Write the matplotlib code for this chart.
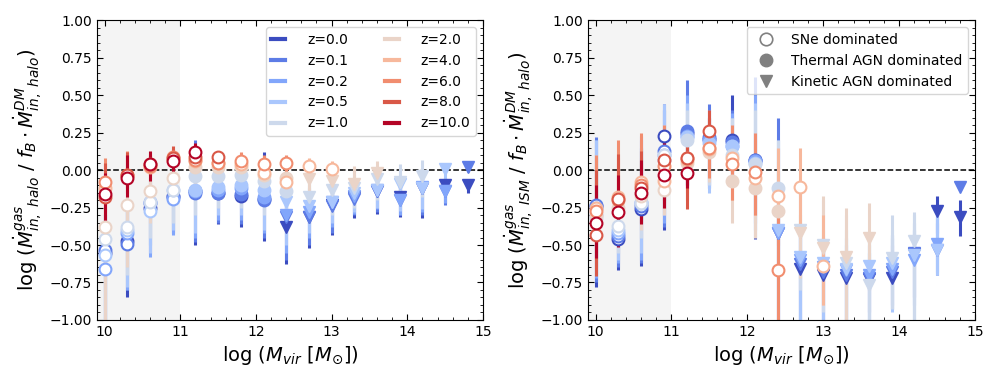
import numpy as np
import matplotlib.pyplot as plt
from matplotlib.lines import Line2D
from matplotlib.ticker import AutoMinorLocator

n = np.nan

# bin centres, log Mvir
logM = [10.0, 10.3, 10.6, 10.9, 11.2, 11.5, 11.8, 12.1, 12.4, 12.7, 13.0, 13.3, 13.6, 13.9, 14.2, 14.5, 14.8]
redshifts = ['0.0', '0.1', '0.2', '0.5', '1.0', '2.0', '4.0', '6.0', '8.0', '10.0']

# o = SNe (open), f = thermal AGN (filled), v = kinetic AGN
halo_mark = ["ooooffffvvvvvvvvv"] * 4 + ["oooofffffvvvvvvvv"] * 2 + ["o" * 17] * 4
ism_mark = ["ooooffffvvvvvvvvv"] * 4 + ["oooofffffvvvvvvvv"] * 2 + ["o" * 17] * 4

# ---- left panel: halo ----
halo_y = [
    [-0.55, -0.47, -0.25, -0.17, -0.14, -0.15, -0.17, -0.19, -0.38, -0.31, -0.23, -0.18, -0.14, -0.18, -0.12, -0.10, -0.10],
    [-0.53, -0.49, -0.22, -0.18, -0.15, -0.15, -0.16, -0.20, -0.31, -0.31, -0.24, -0.19, -0.14, -0.20, -0.12, -0.14, 0.02],
    [-0.66, -0.42, -0.21, -0.19, -0.14, -0.13, -0.12, -0.18, -0.30, -0.28, -0.21, -0.17, -0.13, -0.20, -0.11, -0.14],
    [-0.57, -0.40, -0.27, -0.13, -0.13, -0.11, -0.10, -0.13, -0.21, -0.24, -0.21, -0.15, -0.13, -0.09, -0.12, 0.01],
    [-0.46, -0.38, -0.21, -0.13, -0.04, -0.04, -0.03, -0.07, -0.14, -0.18, -0.13, -0.12, -0.06, -0.08, -0.04],
    [-0.38, -0.23, -0.14, -0.05, 0.02, 0.02, 0.02, -0.03, -0.05, -0.06, -0.07, -0.09, -0.02],
    [-0.12, -0.04, 0.02, 0.07, 0.06, 0.05, 0.04, -0.02, -0.08, 0.03, 0.005],
    [-0.08, -0.03, 0.03, 0.09, 0.07, 0.05, 0.06, 0.04, 0.05],
    [-0.18, -0.03, 0.04, 0.08, 0.09, 0.09],
    [-0.16, -0.05, 0.04, 0.06, 0.12],
]
halo_lo = [
    [-1.05, -0.85, -0.50, -0.42, -0.50, -0.36, -0.38, -0.47, -0.63, -0.52, -0.43, -0.32, -0.29, -0.31, -0.32, -0.22, -0.15],
    [-1.05, -0.80, -0.55, -0.40, -0.48, -0.35, -0.36, -0.45, -0.60, -0.50, -0.42, -0.30, -0.28, -0.30, -0.30, -0.23, -0.01],
    [-1.05, -0.80, -0.58, -0.43, -0.45, -0.33, -0.33, -0.42, -0.55, -0.45, -0.38, -0.29, -0.26, -0.30, -0.28, -0.22],
    [-1.05, -0.78, -0.55, -0.40, -0.42, -0.30, -0.30, -0.40, -0.50, -0.42, -0.35, -0.28, -0.25, -0.27, -0.26, -0.12],
    [-1.05, -0.70, -0.45, -0.35, -0.30, -0.25, -0.25, -0.30, -0.40, -0.35, -0.30, -0.25, -0.20, -0.22, -0.18],
    [-1.05, -0.65, -0.35, -0.22, -0.10, -0.10, -0.10, -0.15, -0.18, -0.22, -0.22, -0.22, -0.13],
    [-0.30, -0.15, -0.05, -0.03, -0.02, -0.02, -0.04, -0.10, -0.15, -0.05, -0.05],
    [-0.22, -0.15, -0.05, -0.02, 0.00, 0.00, -0.02, -0.05, -0.03],
    [-0.30, -0.12, -0.03, 0.00, 0.04, 0.05],
    [-0.37, -0.18, -0.07, -0.02, 0.06],
]
halo_hi = [
    [-0.30, -0.25, -0.10, -0.05, 0.05, 0.02, 0.02, 0.12, -0.10, -0.15, -0.10, -0.08, -0.05, -0.05, -0.05, -0.05, -0.06],
    [-0.30, -0.28, -0.08, -0.05, 0.20, 0.05, 0.05, 0.05, -0.10, -0.15, -0.10, -0.08, -0.05, -0.05, -0.05, -0.08, 0.03],
    [-0.35, -0.25, -0.05, -0.05, 0.05, 0.02, 0.02, 0.00, -0.10, -0.12, -0.08, -0.05, -0.05, -0.05, -0.02, -0.05],
    [-0.30, -0.20, -0.10, -0.05, 0.05, 0.03, 0.03, 0.00, -0.05, -0.10, -0.08, -0.05, -0.05, -0.02, 0.00, 0.05],
    [-0.25, -0.25, -0.10, -0.05, 0.05, 0.05, 0.05, 0.02, 0.00, -0.05, -0.02, 0.00, 0.03, 0.04, 0.07],
    [-0.10, -0.05, -0.05, 0.05, 0.08, 0.08, 0.08, 0.06, 0.08, 0.04, 0.04, 0.03, 0.06],
    [0.05, 0.10, 0.10, 0.12, 0.12, 0.11, 0.10, 0.08, 0.07, 0.08, 0.06],
    [0.08, 0.13, 0.10, 0.14, 0.14, 0.12, 0.12, 0.10, 0.10],
    [0.05, 0.12, 0.12, 0.16, 0.16, 0.13],
    [-0.02, 0.10, 0.13, 0.13, 0.18],
]

# ---- right panel: ISM ----
ism_y = [
    [-0.24, -0.46, -0.26, 0.23, 0.25, 0.21, 0.20, 0.07, -0.42, -0.66, -0.70, -0.72, -0.73, -0.72, -0.56, -0.27, -0.31],
    [-0.23, -0.44, -0.24, 0.13, 0.26, 0.22, 0.19, 0.07, -0.42, -0.63, -0.68, -0.70, -0.72, -0.68, -0.55, -0.53, -0.11],
    [-0.25, -0.42, -0.22, 0.10, 0.23, 0.20, 0.16, 0.06, -0.42, -0.60, -0.65, -0.67, -0.70, -0.66, -0.60, -0.49],
    [-0.30, -0.40, -0.21, 0.07, 0.22, 0.18, 0.16, 0.05, -0.40, -0.58, -0.62, -0.66, -0.64, -0.62, -0.57, -0.53],
    [-0.32, -0.37, -0.22, 0.10, 0.20, 0.15, 0.10, 0.04, -0.12, -0.40, -0.50, -0.62, -0.77, -0.59, -0.47],
    [-0.30, -0.25, -0.17, -0.13, 0.05, 0.12, -0.07, -0.12, -0.27, -0.42, -0.52, -0.58, -0.45],
    [-0.25, -0.18, -0.08, -0.07, 0.07, 0.14, 0.08, -0.05, -0.17, -0.11, -0.64],
    [-0.27, -0.20, -0.10, 0.03, 0.08, 0.15, 0.04, -0.01, -0.67],
    [-0.43, -0.19, -0.12, 0.07, 0.08, 0.26],
    [-0.35, -0.28, -0.15, -0.03, -0.02],
]
ism_lo = [
    [-0.78, -0.67, -0.64, -0.40, -0.10, -0.10, -0.05, -0.46, -1.05, -1.05, -1.05, -1.05, -0.95, -0.93, -0.85, -0.42, -0.44],
    [-0.75, -0.65, -0.62, -0.38, -0.12, -0.12, -0.10, -0.40, -1.05, -1.05, -1.05, -1.05, -1.00, -0.90, -0.90, -0.70, -0.11],
    [-0.72, -0.62, -0.60, -0.35, -0.10, -0.12, -0.10, -0.35, -1.05, -1.05, -1.05, -1.05, -1.05, -0.93, -1.05, -0.68],
    [-0.70, -0.60, -0.55, -0.30, -0.10, -0.15, -0.10, -0.30, -1.05, -1.05, -1.05, -1.05, -1.05, -0.95, -1.05, -0.70],
    [-0.70, -0.55, -0.45, -0.20, -0.05, -0.10, -0.10, -0.25, -0.50, -0.80, -0.95, -1.05, -1.05, -0.93, -1.05],
    [-0.65, -0.50, -0.40, -0.30, -0.10, -0.08, -0.35, -0.45, -0.60, -0.72, -0.90, -1.05, -0.80],
    [-0.55, -0.40, -0.30, -0.25, -0.15, 0.00, -0.20, -0.30, -0.50, -0.45, -0.90],
    [-0.60, -0.45, -0.35, -0.22, -0.20, -0.05, -0.20, -0.30, -1.05],
    [-0.71, -0.45, -0.35, -0.20, -0.26, 0.10],
    [-0.59, -0.51, -0.36, -0.25, -0.12],
]
ism_hi = [
    [0.20, -0.30, 0.15, 0.40, 0.45, 0.35, 0.50, 0.25, -0.30, -0.45, -0.50, -0.55, -0.60, -0.43, -0.45, -0.17, -0.20],
    [0.22, -0.25, 0.23, 0.44, 0.60, 0.44, 0.40, 0.62, 0.35, -0.40, -0.45, -0.50, -0.55, -0.50, -0.40, -0.35, -0.11],
    [0.20, -0.25, 0.20, 0.40, 0.50, 0.40, 0.38, 0.50, 0.20, -0.35, -0.45, -0.45, -0.50, -0.45, -0.35, -0.32],
    [0.20, -0.20, 0.15, 0.44, 0.45, 0.35, 0.35, 0.45, 0.15, -0.30, -0.40, -0.40, -0.45, -0.40, -0.30, -0.30],
    [0.10, -0.15, 0.05, 0.30, 0.40, 0.30, 0.35, 0.40, 0.20, -0.10, -0.20, -0.30, -0.45, -0.30, -0.28],
    [0.00, -0.05, 0.05, 0.05, 0.20, 0.25, 0.10, 0.10, 0.00, -0.15, -0.17, -0.25, -0.22],
    [0.08, 0.08, 0.08, 0.15, 0.25, 0.30, 0.25, 0.20, 0.15, 0.15, -0.30],
    [0.10, 0.20, 0.25, 0.30, 0.30, 0.35, 0.30, 0.25, -0.30],
    [0.00, 0.11, 0.13, 0.25, 0.28, 0.40],
    [-0.10, -0.03, 0.07, 0.24, 0.10],
]


def pad(rows):
    return np.array([r + [n] * (len(logM) - len(r)) for r in rows])


colors = plt.cm.coolwarm(np.linspace(0, 1, len(redshifts)))
x = np.array(logM)


def draw(ax, Y, LO, HI, marks):
    Y, LO, HI = pad(Y), pad(LO), pad(HI)
    for k in range(len(redshifts)):
        c = colors[k]
        mk = np.array(list(marks[k]))
        for m in ['o', 'f', 'v']:
            sel = (mk == m) & ~np.isnan(Y[k])
            if not sel.any():
                continue
            y = Y[k][sel]
            err = [y - LO[k][sel], HI[k][sel] - y]
            if m == 'o':
                ax.errorbar(x[sel], y, yerr=err, fmt='o', ms=8.5, mfc='white', mec=c, mew=1.5,
                            ecolor=c, elinewidth=2.2, capsize=0)
            elif m == 'f':
                ax.errorbar(x[sel], y, yerr=err, fmt='o', ms=9, color=c,
                            ecolor=c, elinewidth=2.2, capsize=0)
            else:
                ax.errorbar(x[sel], y, yerr=err, fmt='v', ms=9, color=c,
                            ecolor=c, elinewidth=2.2, capsize=0)
    ax.axvspan(9.9, 11.0, color='#f4f4f4', zorder=0, lw=0)
    ax.axhline(0, color='k', ls='--', lw=1.1, zorder=1)
    ax.set_xlim(9.9, 15)
    ax.set_ylim(-1, 1)
    ax.set_yticks(np.arange(-1, 1.01, 0.25))
    ax.xaxis.set_minor_locator(AutoMinorLocator())
    ax.yaxis.set_minor_locator(AutoMinorLocator())
    ax.tick_params(which='both', direction='in', top=True, right=True, labelsize=10)
    ax.tick_params(which='major', length=4)
    ax.tick_params(which='minor', length=2)
    ax.set_xlabel(r'log ($M_{vir}$ [$M_{\odot}$])', fontsize=14)


fig = plt.figure(figsize=(10, 3.8), dpi=100)
ax1 = fig.add_axes([0.097, 0.158, 0.386, 0.789])
ax2 = fig.add_axes([0.588, 0.158, 0.387, 0.789])

draw(ax1, halo_y, halo_lo, halo_hi, halo_mark)
draw(ax2, ism_y, ism_lo, ism_hi, ism_mark)

ax1.set_ylabel(r'log ($\dot{M}^{gas}_{in,\ halo}$ / $f_B \cdot \dot{M}^{DM}_{in,\ halo}$)', fontsize=14)
ax2.set_ylabel(r'log ($\dot{M}^{gas}_{in,\ ISM}$ / $f_B \cdot \dot{M}^{DM}_{in,\ halo}$)', fontsize=14)

handles = [Line2D([], [], color=colors[k], lw=3) for k in range(len(redshifts))]
ax1.legend(handles, ['z=' + z for z in redshifts], ncol=2, loc='upper right', fontsize=10,
           handlelength=1.0, columnspacing=2.6, handletextpad=1.6)

mk_handles = [
    Line2D([], [], ls='none', marker='o', ms=9, mfc='white', mec='gray', mew=1.2),
    Line2D([], [], ls='none', marker='o', ms=9, color='gray'),
    Line2D([], [], ls='none', marker='v', ms=9, color='gray'),
]
ax2.legend(mk_handles, ['SNe dominated', 'Thermal AGN dominated', 'Kinetic AGN dominated'],
           loc='upper right', fontsize=10)

plt.savefig('out.png', dpi=100)
